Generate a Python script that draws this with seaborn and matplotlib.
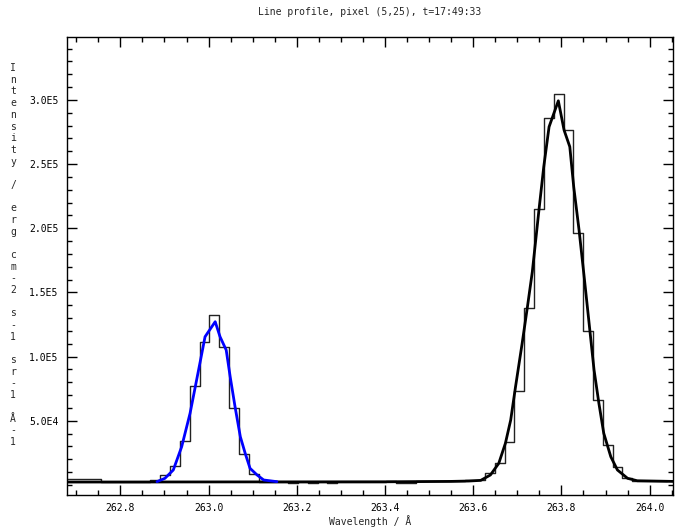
import matplotlib
matplotlib.use("Agg")
import matplotlib.pyplot as plt
import seaborn as sns
import numpy as np
from matplotlib.ticker import MultipleLocator, FixedLocator, FuncFormatter

# ---- data -------------------------------------------------------------
wavelength = [262.679, 262.701, 262.723, 262.745, 262.768, 262.790, 262.812,
              262.835, 262.857, 262.879, 262.902, 262.924, 262.946, 262.968,
              262.991, 263.013, 263.035, 263.058, 263.080, 263.102, 263.125,
              263.147, 263.169, 263.191, 263.214, 263.236, 263.258, 263.281,
              263.303, 263.325, 263.348, 263.370, 263.392, 263.414, 263.437,
              263.459, 263.481, 263.504, 263.526, 263.548, 263.571, 263.593,
              263.615, 263.637, 263.660, 263.682, 263.704, 263.727, 263.749,
              263.771, 263.794, 263.816, 263.838, 263.860, 263.883, 263.905,
              263.927, 263.950, 263.972, 263.994, 264.017, 264.039]
intensity = [4500, 4500, 4500, 4500, 2500, 2500, 2500,
             2500, 2500, 3900, 7800, 15000, 34500, 77100,
             111100, 132400, 107200, 59700, 24100, 8600, 2600,
             2400, 2400, 1300, 2400, 1300, 2400, 1300,
             2400, 2400, 2400, 2400, 2400, 3200, 1300,
             1300, 3000, 3000, 3000, 3000, 3000, 3600,
             4200, 9100, 17400, 33700, 73400, 137600, 215000,
             285600, 304300, 276500, 196000, 120200, 66200, 31200,
             14300, 5200, 3300, 2800, 2800, 2800]

fit1_wl = [262.883, 262.901, 262.920, 262.939, 262.958, 262.981, 262.992,
           263.015, 263.026, 263.040, 263.049, 263.060, 263.072, 263.083,
           263.094, 263.110, 263.125, 263.155]
fit1_int = [2600, 5200, 11700, 29800, 55800, 96000, 115500,
            127200, 115500, 105100, 84300, 61000, 37600, 24700,
            13000, 7800, 3900, 2600]

fit2_wl = [262.679, 263.400, 263.550, 263.590, 263.617, 263.639, 263.658,
           263.673, 263.685, 263.696, 263.711, 263.723, 263.734, 263.749,
           263.760, 263.772, 263.793, 263.806, 263.819, 263.828, 263.840,
           263.851, 263.862, 263.874, 263.885, 263.896, 263.912, 263.927,
           263.950, 263.972, 264.053]
fit2_int = [2300, 2500, 2800, 3100, 3600, 7800, 16900,
            32500, 50600, 76600, 110400, 138900, 166000, 214000,
            248000, 279000, 299300, 276500, 263500, 232000, 198600,
            164000, 128500, 89600, 63600, 40300, 22000, 11700,
            5200, 3300, 2800]

title = "Line profile, pixel (5,25), t=17:49:33"
xlabel = "Wavelength / Å"
ylabel = "Intensity / erg cm-2 s-1 sr-1 Å-1"
xticks = [262.8, 263.0, 263.2, 263.4, 263.6, 263.8, 264.0]
yticks = [5.0e4, 1.0e5, 1.5e5, 2.0e5, 2.5e5, 3.0e5]

# ---- style ------------------------------------------------------------
sns.set_theme(style="ticks")
plt.rcParams['font.family'] = ['DejaVu Sans Mono', 'DejaVu Sans']
FS = 7

fig = plt.figure(figsize=(6.75, 5.29), dpi=100)
W, H = 675, 529
ax = fig.add_axes([67 / W, 1 - 495 / H, 606 / W, 458 / H])

sns.lineplot(x=wavelength, y=intensity, drawstyle='steps-mid', color='#222222',
             lw=1.0, estimator=None, ax=ax)
sns.lineplot(x=fit2_wl, y=fit2_int, color='black', lw=2.0, estimator=None,
             sort=False, ax=ax)
sns.lineplot(x=fit1_wl, y=fit1_int, color='#0000ff', lw=2.0, estimator=None,
             sort=False, ax=ax)

ax.set_xlim(262.679, 264.053)
ax.set_ylim(-7790, 349000)

ax.xaxis.set_major_locator(FixedLocator(xticks))
ax.xaxis.set_minor_locator(MultipleLocator(0.05))
ax.yaxis.set_major_locator(FixedLocator(yticks))
ax.yaxis.set_minor_locator(MultipleLocator(1e4))
ax.xaxis.set_major_formatter(FuncFormatter(lambda v, p: f"{v:.1f}"))


def efmt(v, p):
    e = int(np.floor(np.log10(v)))
    m = v / 10 ** e
    return f"{m:.1f}E{e}"


ax.yaxis.set_major_formatter(FuncFormatter(efmt))

for s in ax.spines.values():
    s.set_visible(True)
    s.set_linewidth(1.0)
    s.set_color('black')
ax.tick_params(which='both', direction='in', top=True, right=True,
               colors='black', labelsize=FS, width=1.0)
ax.tick_params(which='major', length=7.5, pad=6)
ax.tick_params(which='minor', length=3.8)
ax.set_xlabel("")
ax.set_ylabel("")

fig.text(370 / W, 1 - 12 / H, title, ha='center', va='center', fontsize=FS)
fig.text(370 / W, 1 - 521 / H, xlabel, ha='center', va='center', fontsize=FS)
fig.text(13 / W, 1 - 255 / H, "\n".join(list(ylabel)), ha='center',
         va='center', fontsize=FS, linespacing=1.21)

fig.savefig("out.png", dpi=100, facecolor='white')
